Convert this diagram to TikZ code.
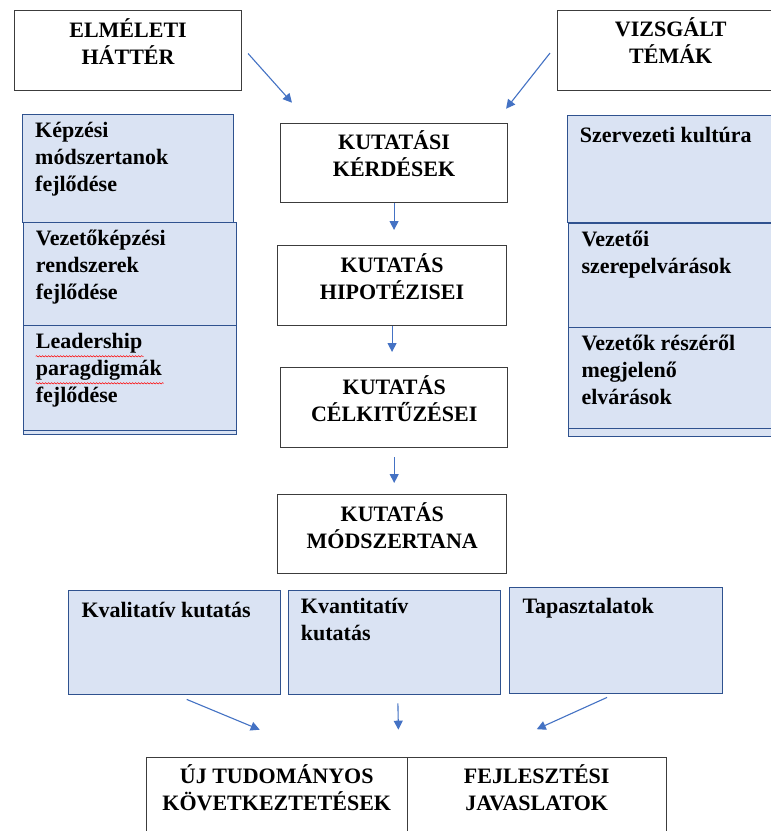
\documentclass[tikz,border=0pt]{standalone}
\usepackage{fontspec}
\setmainfont{Liberation Serif}[BoldFont={Liberation Serif Bold}]
\usetikzlibrary{arrows.meta,calc,decorations.pathmorphing}
\definecolor{topicfill}{RGB}{218,227,243}
\definecolor{topicedge}{RGB}{47,82,143}
\definecolor{flowblue}{RGB}{68,114,196}
\definecolor{headedge}{RGB}{60,60,60}

\begin{document}
\begin{tikzpicture}[x=1pt, y=-1pt,
    head/.style={draw=headedge, fill=white, line width=1.1pt, anchor=north west, inner sep=0pt},
    topic/.style={draw=topicedge, fill=topicfill, line width=1.1pt, anchor=north west, inner sep=0pt},
    headtext/.style={anchor=north, yshift=-8pt, inner sep=0pt, align=center, font=\rmfamily\fontsize{22}{27}\selectfont\bfseries, execute at begin node=\strut},
    topictext/.style={anchor=north west, xshift=13pt, yshift=-8pt, inner sep=0pt, align=left, font=\rmfamily\fontsize{22}{27}\selectfont\bfseries, execute at begin node=\strut},
    flow/.style={draw=flowblue, line width=1.1pt, -{Triangle[length=9pt,width=9pt]}},
    spell/.style={draw=red, line width=0.5pt, decorate, decoration={snake, amplitude=0.7pt, segment length=3pt}}
  ]
  \useasboundingbox[fill=white] (0,0) rectangle (771,831);

  % Top: background and themes
  \node[head, minimum width=227pt, minimum height=80pt] (elmeleti) at (14,10) {};
  \node[head, minimum width=227pt, minimum height=80pt] (vizsgalt) at (556.7,9.5) {};
  \node[headtext] (elmeleti-t) at (elmeleti.north) {ELMÉLETI\\HÁTTÉR};
  \node[headtext] (vizsgalt-t) at (vizsgalt.north) {VIZSGÁLT\\TÉMÁK};

  % Left column
  \node[topic, minimum width=210.7pt, minimum height=107.7pt] (kepzes) at (22,114) {};
  \node[topic, minimum width=213pt, minimum height=212.3pt] (vezkep) at (22.7,221.7) {};
  \node[topic, minimum width=213pt, minimum height=104.7pt] (leader) at (22.7,325.3) {};
  \node[topictext] (kepzes-t) at (kepzes.north west) {Képzési\\módszertanok\\fejlődése};
  \node[topictext] (vezkep-t) at (vezkep.north west) {Vezetőképzési\\rendszerek\\fejlődése};
  \node[topictext] (leader-t) at (leader.north west) {Leadership\\paragdigmák\\fejlődése};
  \draw[spell] ($(leader.north west)+(13,31)$) -- ++(108,0);
  \draw[spell] ($(leader.north west)+(13,58)$) -- ++(128,0);

  % Right column
  \node[topic, minimum width=212pt, minimum height=106.7pt] (szerv) at (566.7,115) {};
  \node[topic, minimum width=212pt, minimum height=213.3pt] (szerep) at (568.3,222.7) {};
  \node[topic, minimum width=212pt, minimum height=101pt] (elvar) at (568.3,326.7) {};
  \node[topictext] (szerv-t) at (szerv.north west) {Szervezeti kultúra};
  \node[topictext] (szerep-t) at (szerep.north west) {Vezetői\\szerepelvárások};
  \node[topictext] (elvar-t) at (elvar.north west) {Vezetők részéről\\megjelenő\\elvárások};

  % Middle chain
  \node[head, minimum width=227pt, minimum height=79.5pt] (kerdesek) at (280,122.7) {};
  \node[head, minimum width=228.4pt, minimum height=80pt] (hipo) at (277.3,245) {};
  \node[head, minimum width=227.3pt, minimum height=80.3pt] (cel) at (280,367) {};
  \node[head, minimum width=228.7pt, minimum height=79pt] (modsz) at (277.3,494) {};
  \node[headtext] (kerdesek-t) at (kerdesek.north) {KUTATÁSI\\KÉRDÉSEK};
  \node[headtext] (hipo-t) at (hipo.north) {KUTATÁS\\HIPOTÉZISEI};
  \node[headtext] (cel-t) at (cel.north) {KUTATÁS\\CÉLKITŰZÉSEI};
  \node[headtext] (modsz-t) at (modsz.north) {KUTATÁS\\MÓDSZERTANA};

  % Methods
  \node[topic, minimum width=211.7pt, minimum height=104.3pt] (kval) at (68.3,590) {};
  \node[topic, minimum width=212.3pt, minimum height=104.3pt] (kvant) at (287.7,590) {};
  \node[topic, minimum width=212.4pt, minimum height=106.6pt] (tapaszt) at (509.3,586.7) {};
  \node[topictext] (kval-t) at (kval.north west) {Kvalitatív kutatás};
  \node[topictext] (kvant-t) at (kvant.north west) {Kvantitatív\\kutatás};
  \node[topictext] (tapaszt-t) at (tapaszt.north west) {Tapasztalatok};

  % Results
  \node[head, minimum width=261pt, minimum height=80pt] (uj) at (145.7,756.7) {};
  \node[head, minimum width=259pt, minimum height=80pt] (fejl) at (406.7,756.7) {};
  \node[headtext] (uj-t) at (uj.north) {ÚJ TUDOMÁNYOS\\KÖVETKEZTETÉSEK};
  \node[headtext] (fejl-t) at (fejl.north) {FEJLESZTÉSI\\JAVASLATOK};

  % Arrows
  \draw[flow] ($(elmeleti.east)+(6,3)$) -- ($(kerdesek.north west)+(12,-20)$);
  \draw[flow] ($(vizsgalt.west)+(-6.7,3)$) -- ($(kerdesek.north east)+(-2,-14)$);
  \draw[flow, shorten >=15pt] (kerdesek.south) -- (kerdesek.south |- hipo.north);
  \draw[flow, shorten >=15pt] (hipo.south) -- (hipo.south |- cel.north);
  \draw[flow, shorten <=9pt, shorten >=11pt] (cel.south) -- (cel.south |- modsz.north);
  \draw[flow] ($(kval.south)+(12,4)$) -- ($(uj.north west)+(114,-27)$);
  \draw[flow] ($(kvant.south)+(3.5,8)$) -- ($(uj.north east)+(-9.4,-27)$);
  \draw[flow] ($(tapaszt.south)+(-9,3)$) -- ($(fejl.north)+(0,-27.5)$);
\end{tikzpicture}
\end{document}
